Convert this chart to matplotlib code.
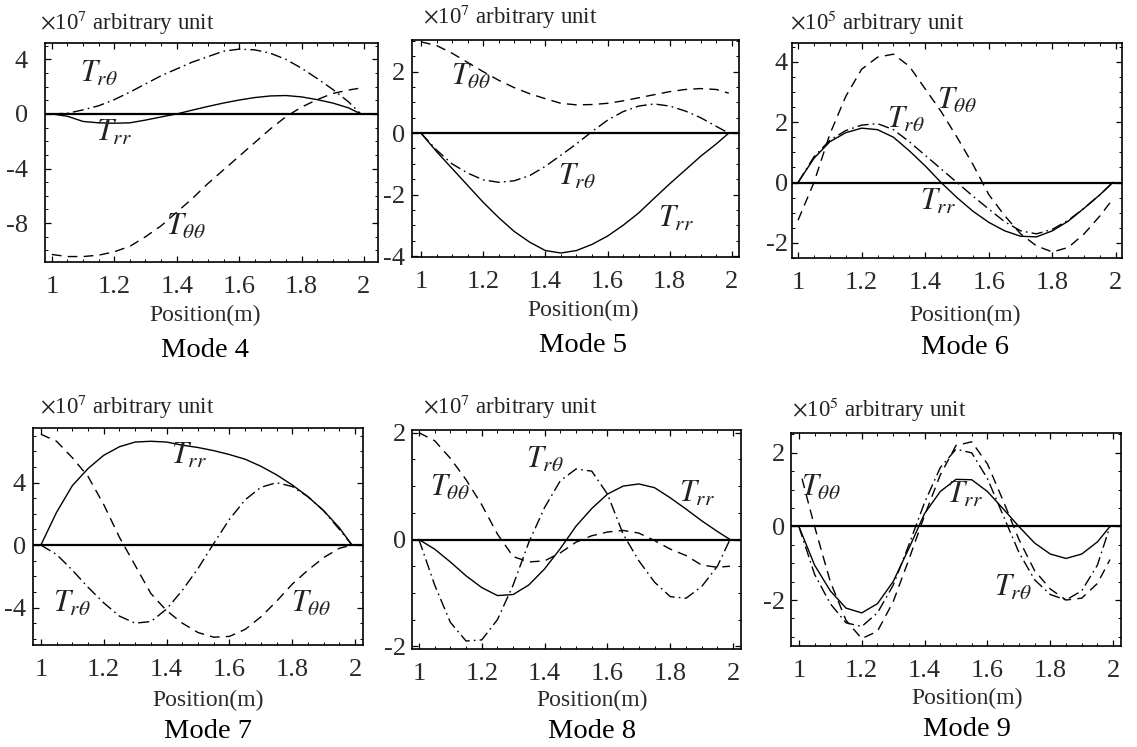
import numpy as np
import matplotlib
matplotlib.use("Agg")
import matplotlib.pyplot as plt
from matplotlib.ticker import MultipleLocator, FixedLocator, FixedFormatter

plt.rcParams['font.family'] = ['Liberation Serif', 'DejaVu Serif']
plt.rcParams['mathtext.fontset'] = 'stix'
plt.rcParams['axes.unicode_minus'] = False

W, H = 1137, 747

# ---- data (units as printed on each y axis) ----
x = [1.0, 1.05, 1.1, 1.15, 1.2, 1.25, 1.3, 1.35, 1.4, 1.45, 1.5,
     1.55, 1.6, 1.65, 1.7, 1.75, 1.8, 1.85, 1.9, 1.95, 1.99]

# Mode 4 (x1e7)
m4_rr = [0, -0.17, -0.55, -0.65, -0.68, -0.65, -0.45, -0.22, 0.0, 0.28, 0.55,
         0.8, 1.02, 1.2, 1.32, 1.35, 1.25, 1.05, 0.8, 0.45, 0.0]
m4_rt = [0, 0.05, 0.3, 0.6, 1.05, 1.6, 2.2, 2.8, 3.3, 3.8, 4.2,
         4.6, 4.75, 4.7, 4.45, 4.0, 3.35, 2.6, 1.8, 0.9, 0.0]
m4_tt = [-10.3, -10.45, -10.45, -10.35, -10.1, -9.7, -9.0, -8.2, -7.2, -6.2, -5.1,
         -4.1, -3.1, -2.1, -1.1, -0.2, 0.5, 1.05, 1.5, 1.75, 1.9]

# Mode 5 (x1e7)
m5_rr = [0, -0.6, -1.15, -1.7, -2.25, -2.75, -3.2, -3.55, -3.82, -3.9, -3.82,
         -3.62, -3.35, -3.0, -2.6, -2.12, -1.65, -1.2, -0.75, -0.35, 0.0]
m5_rt = [0, -0.55, -1.0, -1.3, -1.52, -1.6, -1.55, -1.38, -1.08, -0.72, -0.35,
         0.05, 0.42, 0.7, 0.88, 0.95, 0.88, 0.72, 0.5, 0.22, 0.0]
m5_tt = [2.97, 2.85, 2.6, 2.3, 2.0, 1.72, 1.48, 1.28, 1.12, 0.97, 0.92,
         0.93, 0.97, 1.05, 1.15, 1.25, 1.35, 1.42, 1.45, 1.42, 1.3]

# Mode 6 (x1e5)
m6_rr = [0, 0.8, 1.35, 1.65, 1.8, 1.75, 1.5, 1.05, 0.55, 0.0, -0.5,
         -0.95, -1.32, -1.6, -1.78, -1.8, -1.6, -1.28, -0.85, -0.4, 0.0]
m6_rt = [0, 0.85, 1.4, 1.72, 1.9, 1.95, 1.75, 1.35, 0.9, 0.45, 0.0,
         -0.45, -0.88, -1.3, -1.6, -1.7, -1.55, -1.25, -0.85, -0.4, 0.0]
m6_tt = [-1.25, 0.0, 1.6, 2.85, 3.75, 4.15, 4.25, 3.85, 3.1, 2.35, 1.5,
         0.6, -0.4, -1.1, -1.7, -2.1, -2.3, -2.15, -1.7, -1.1, -0.55]

# Mode 7 (x1e7)
m7_rr = [0, 2.1, 3.8, 4.9, 5.75, 6.3, 6.6, 6.65, 6.6, 6.4, 6.25,
         6.05, 5.8, 5.5, 5.05, 4.5, 3.85, 3.1, 2.2, 1.1, 0.0]
m7_rt = [0, -0.6, -1.6, -2.7, -3.7, -4.55, -5.0, -4.9, -4.1, -2.9, -1.5,
         0.1, 1.65, 2.9, 3.7, 4.0, 3.75, 3.1, 2.2, 1.0, 0.0]
m7_tt = [7.1, 6.65, 5.6, 4.4, 2.6, 0.5, -1.3, -3.1, -4.2, -5.0, -5.6,
         -5.9, -5.85, -5.4, -4.6, -3.6, -2.5, -1.6, -0.8, -0.2, 0.0]

# Mode 8 (x1e7)
m8_rr = [0, -0.18, -0.42, -0.68, -0.9, -1.05, -1.03, -0.85, -0.55, -0.17, 0.25,
         0.58, 0.85, 1.0, 1.04, 0.97, 0.78, 0.57, 0.35, 0.15, 0.0]
m8_rt = [0, -0.85, -1.55, -1.9, -1.88, -1.5, -0.85, -0.05, 0.6, 1.1, 1.32,
         1.28, 0.85, 0.1, -0.4, -0.8, -1.07, -1.1, -0.88, -0.5, 0.0]
m8_tt = [2.0, 1.85, 1.52, 1.12, 0.65, 0.1, -0.32, -0.42, -0.4, -0.25, -0.05,
         0.07, 0.14, 0.17, 0.12, -0.02, -0.18, -0.3, -0.48, -0.52, -0.5]

# Mode 9 (x1e5)
m9_rr = [0, -1.05, -1.75, -2.22, -2.35, -2.1, -1.5, -0.6, 0.35, 0.95, 1.28,
         1.27, 0.95, 0.48, 0.0, -0.45, -0.75, -0.87, -0.75, -0.42, 0.0]
m9_rt = [0, -1.3, -2.1, -2.62, -2.72, -2.35, -1.6, -0.5, 0.65, 1.6, 2.1,
         2.0, 1.3, 0.3, -0.7, -1.45, -1.85, -2.0, -1.75, -1.05, 0.0]
m9_tt = [1.3, 0.0, -1.5, -2.55, -3.05, -2.85, -2.05, -0.9, 0.3, 1.4, 2.2,
         2.3, 1.7, 0.7, -0.35, -1.2, -1.7, -2.0, -1.95, -1.55, -0.9]

modes = ["Mode 4", "Mode 5", "Mode 6", "Mode 7", "Mode 8", "Mode 9"]
exponents = [7, 7, 5, 7, 7, 5]
series = [(m4_rr, m4_rt, m4_tt), (m5_rr, m5_rt, m5_tt), (m6_rr, m6_rt, m6_tt),
          (m7_rr, m7_rt, m7_tt), (m8_rr, m8_rt, m8_tt), (m9_rr, m9_rt, m9_tt)]
yticks = [[-8, -4, 0, 4], [-4, -2, 0, 2], [-2, 0, 2, 4],
          [-4, 0, 4], [-2, 0, 2], [-2, 0, 2]]
xtick_vals = [1, 1.2, 1.4, 1.6, 1.8, 2]
xtick_text = ["1", "1.2", "1.4", "1.6", "1.8", "2"]

# ---- layout (pixel boxes: left, top, right, bottom) ----
boxes = [(45, 43, 378, 262), (412, 40, 739, 257), (792, 43, 1122, 258),
         (33, 428, 363, 645), (412, 430, 741, 649), (791, 433, 1121, 646)]
xlims = [(0.978, 2.045), (0.971, 2.023), (0.981, 2.019),
         (0.975, 2.025), (0.978, 2.025), (0.975, 2.025)]
ylims = [(-10.85, 5.2), (-4.03, 3.03), (-2.5, 4.62),
         (-6.4, 7.5), (-2.05, 2.05), (-3.25, 2.54)]
ypads = [12.5, 5, 3, 5, 4, 4]
title_pos = [(40, 23), (423, 17), (790, 23), (40, 407), (423, 407), (792, 410)]
xlab_pos = [(205, 315), (583, 310), (965, 315), (208, 700), (592, 700), (967, 698)]
mode_pos = [(205, 350), (583, 345), (965, 348), (208, 732), (592, 732), (967, 730)]
# label positions in data coords: (rr, rtheta, thetatheta)
lab_pos = [((1.2, -1.4), (1.15, 2.9), (1.43, -8.3)),
           ((1.82, -2.8), (1.5, -1.43), (1.16, 1.81)),
           ((1.44, -0.65), (1.34, 2.05), (1.50, 2.7)),
           ((1.47, 5.7), (1.1, -3.77), (1.86, -3.77)),
           ((1.885, 0.84), (1.4, 1.49), (1.1, 0.96)),
           ((1.53, 0.86), (1.68, -1.68), (1.07, 1.05))]

DASH = (0, (7, 4.5))
DASHDOT = (0, (8, 3, 1.2, 3))


def fx(px):
    return px / W


def fy(py):
    return 1 - py / H


fig = plt.figure(figsize=(W / 100, H / 100), dpi=100)

for i in range(6):
    l, t, r, b = boxes[i]
    ax = fig.add_axes([fx(l), fy(b), (r - l) / W, (b - t) / H])
    rr, rt, tt = series[i]
    xs = list(x)
    xt = list(x)
    if i == 5:
        xt[0] = 1.01
    ax.axhline(0, color='k', lw=1.6, zorder=1)
    ax.plot(xs, rr, color='k', lw=1.0, ls='-')
    ax.plot(xs, rt, color='k', lw=1.0, ls=DASHDOT)
    ax.plot(xt, tt, color='k', lw=1.0, ls=DASH)
    ax.set_xlim(*xlims[i])
    ax.set_ylim(*ylims[i])

    ax.xaxis.set_major_locator(FixedLocator(xtick_vals))
    ax.xaxis.set_major_formatter(FixedFormatter(xtick_text))
    ax.xaxis.set_minor_locator(MultipleLocator(0.05))
    ax.yaxis.set_major_locator(FixedLocator(yticks[i]))
    step = yticks[i][1] - yticks[i][0]
    ax.yaxis.set_minor_locator(MultipleLocator(step / 4))
    ax.tick_params(which='both', direction='in', top=True, right=True,
                   colors='k', labelcolor='#2a2a2a', labelsize=19)
    ax.tick_params(which='major', length=4, width=0.9)
    ax.tick_params(which='minor', length=2, width=0.7)
    ax.tick_params(axis='x', pad=10)
    ax.tick_params(axis='y', pad=ypads[i])
    for s in ax.spines.values():
        s.set_linewidth(1.2)

    (xr, yr), (xrt, yrt), (xtt, ytt) = lab_pos[i]
    ax.text(xr, yr, r'$T_{rr}$', fontsize=22, ha='center', va='center', color='#222')
    ax.text(xrt, yrt, r'$T_{r\theta}$', fontsize=22, ha='center', va='center', color='#222')
    ax.text(xtt, ytt, r'$T_{\theta\theta}$', fontsize=22, ha='center', va='center', color='#222')

    tx, ty = title_pos[i]
    fig.text(fx(tx), fy(ty), r'$\times$10$^{%d}$ arbitrary unit' % exponents[i],
             fontsize=16.5, ha='left', va='center', color='#222')
    px_, py_ = xlab_pos[i]
    fig.text(fx(px_), fy(py_), 'Position(m)', fontsize=17, ha='center', va='center', color='#2a2a2a')
    mx, my = mode_pos[i]
    fig.text(fx(mx), fy(my), modes[i], fontsize=20.5, ha='center', va='center', color='k')

fig.savefig('out.png', dpi=100)
